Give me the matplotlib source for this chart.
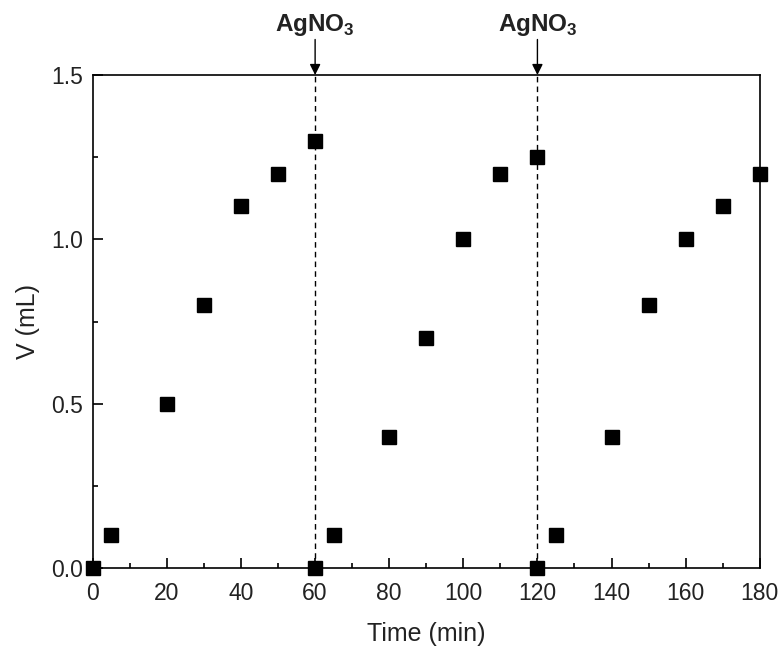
import matplotlib
matplotlib.use("Agg")
import matplotlib.pyplot as plt
from matplotlib.ticker import MultipleLocator, FormatStrFormatter

plt.rcParams["font.family"] = ["Liberation Sans", "DejaVu Sans"]
plt.rcParams["mathtext.fontset"] = "custom"
plt.rcParams["mathtext.rm"] = "Liberation Sans"
plt.rcParams["mathtext.bf"] = "Liberation Sans:bold"

# data
time_min = [0, 5, 20, 30, 40, 50, 60, 60, 65, 80, 90, 100, 110, 120, 120, 125, 140, 150, 160, 170, 180]
volume_ml = [0, 0.1, 0.5, 0.8, 1.1, 1.2, 1.3, 0, 0.1, 0.4, 0.7, 1.0, 1.2, 1.25, 0, 0.1, 0.4, 0.8, 1.0, 1.1, 1.2]
addition_times = [60, 120]
addition_label = r"$\mathbf{AgNO}_{\mathbf{3}}$"

text_color = "#222222"

fig = plt.figure(figsize=(7.8, 6.46), dpi=100)
ax = fig.add_axes([0.119, 0.1207, 0.855, 0.7632])

ax.plot(time_min, volume_ml, "s", color="black", markersize=10, clip_on=False, zorder=5)

for t in addition_times:
    ax.axvline(t, color="black", linestyle=(0, (4, 3)), linewidth=1.0)
    ax.annotate("", xy=(t, 1.5), xytext=(t, 1.608),
                xycoords="data", annotation_clip=False,
                arrowprops=dict(arrowstyle="-|>", color="black", lw=1.0,
                                mutation_scale=16, shrinkA=0, shrinkB=0))
    ax.text(t, 1.612, addition_label, ha="center", va="bottom",
            fontsize=17.5, color=text_color)

ax.set_xlim(0, 180)
ax.set_ylim(0, 1.5)
ax.xaxis.set_major_locator(MultipleLocator(20))
ax.xaxis.set_minor_locator(MultipleLocator(10))
ax.yaxis.set_major_locator(MultipleLocator(0.5))
ax.yaxis.set_minor_locator(MultipleLocator(0.25))
ax.yaxis.set_major_formatter(FormatStrFormatter("%.1f"))
ax.tick_params(which="both", direction="in", labelsize=16.5, width=1.2,
               labelcolor=text_color)
ax.tick_params(which="major", length=7)
ax.tick_params(which="minor", length=3.5)
ax.tick_params(axis="x", which="major", pad=10)
ax.tick_params(axis="y", which="major", pad=7)
for s in ax.spines.values():
    s.set_linewidth(1.2)

ax.set_xlabel("Time (min)", fontsize=18, color=text_color, labelpad=12)
ax.set_ylabel("V (mL)", fontsize=18, color=text_color, labelpad=8)

fig.savefig("out.png", dpi=100)
